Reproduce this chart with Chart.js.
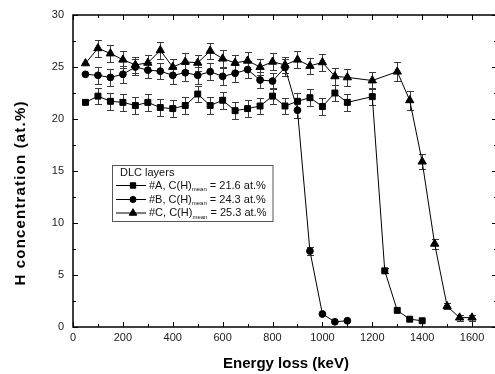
<!DOCTYPE html>
<html><head><meta charset="utf-8">
<script src="https://cdn.jsdelivr.net/npm/chart.js@4/dist/chart.umd.min.js"></script>
<style>
html,body{margin:0;padding:0;overflow:hidden;background:#fff;width:495px;height:374px}
#wrap{position:relative;width:495px;height:374px}
</style></head>
<body><div id="wrap"><canvas id="c" width="495" height="374"></canvas></div>
<script>
// ---- data ----
const xA = [50,100,150,200,250,300,350,400,450,500,550,600,650,700,750,800,850,900,950,1000,1050,1100,1200,1250,1300,1350,1400];
const yA = [21.6,22.2,21.7,21.6,21.3,21.6,21.1,21.0,21.3,22.4,21.3,21.8,20.8,21.0,21.25,22.2,21.25,21.7,22.05,21.2,22.5,21.6,22.15,5.4,1.6,0.75,0.6];
const eA = [0,0.8,0.8,0.8,0.8,0.8,0.8,0.8,0.8,0.8,0.8,0.8,0.8,0.8,0.8,0.8,0.8,0.8,0.8,0.8,0.8,0.8,0.8,0.25,0,0,0];

const xB = [50,100,150,200,250,300,350,400,450,500,550,600,650,700,750,800,850,900,950,1000,1050,1100];
const yB = [24.3,24.2,24.0,24.3,25.0,24.7,24.6,24.2,24.45,24.2,24.55,24.1,24.4,24.75,23.75,23.65,24.95,20.85,7.3,1.25,0.5,0.6];
const eB = [0,0.8,0.8,0.8,0.8,0.8,0.8,0.8,0.8,0.8,0.8,0.8,0.8,0.8,0.8,0.8,0.8,0.8,0.4,0,0,0];

const xC = [50,100,150,200,250,300,350,400,450,500,550,600,650,700,750,800,850,900,950,1000,1050,1100,1200,1300,1350,1400,1450,1500,1550,1600];
const yC = [25.35,26.8,26.3,25.7,25.2,25.4,26.6,25.0,25.5,25.4,26.55,25.8,25.4,25.6,25.0,25.5,25.2,25.7,25.1,25.45,24.1,24.0,23.7,24.55,21.8,15.9,8.0,2.0,0.9,0.9];
const eC = [0,0.8,0.8,0.8,0.8,0.8,0.8,0.8,0.8,0.8,0.8,0.8,0.8,0.8,0.8,0.8,0.8,0.8,0.8,0.8,0.8,0.8,0.8,0.9,0.9,0.7,0.5,0.3,0.3,0.3];

const xTicks = [0,200,400,600,800,1000,1200,1400,1600];
const xMinor = [100,300,500,700,900,1100,1300,1500,1700];
const yTicks = [0,5,10,15,20,25,30];
const yMinor = [2.5,7.5,12.5,17.5,22.5,27.5];

const xTitle = 'Energy loss (keV)';
const yTitle = 'H concentration (at.%)';
const legendTitle = 'DLC layers';
const legendNames = ['#A, C(H)', '#B, C(H)', '#C, C(H)'];
const legendSub = 'mean';
const legendMeans = [' = 21.6 at.%', ' = 24.3 at.%', ' = 25.3 at.%'];
const pointStyles = ['rect', 'circle', 'triangle'];
const pointRadii = [4.2, 3.4, 4.8];

const errSets = [eA, eB, eC];
const pts = (xs, ys) => xs.map((v, i) => ({x: v, y: ys[i]}));
const FONT = "'Liberation Sans', Arial, sans-serif";
const AREA = {left: 73, right: 497, top: 15, bottom: 327};

const areaPlugin = {
  id: 'area',
  afterLayout(chart) {
    const a = chart.chartArea;
    Object.assign(a, AREA);
    a.width = AREA.right - AREA.left;
    a.height = AREA.bottom - AREA.top;
    const x = chart.scales.x, y = chart.scales.y;
    x.left = AREA.left; x.right = AREA.right; x.width = a.width; x.configure();
    y.top = AREA.top; y.bottom = AREA.bottom; y.height = a.height; y.configure();
  }
};

const errPlugin = {
  id: 'errbars',
  beforeDatasetsDraw(chart) {
    const {ctx, scales: {x, y}} = chart;
    ctx.save();
    ctx.strokeStyle = '#3a3a3a';
    ctx.lineWidth = 1;
    chart.data.datasets.forEach((ds, i) => {
      const errs = errSets[i];
      ds.data.forEach((p, j) => {
        const e = errs[j];
        if (!e) return;
        const px = Math.round(x.getPixelForValue(p.x)) + 0.5;
        const y1 = Math.round(y.getPixelForValue(p.y + e)) + 0.5;
        const y2 = Math.round(y.getPixelForValue(p.y - e)) + 0.5;
        ctx.beginPath();
        ctx.moveTo(px, y1); ctx.lineTo(px, y2);
        ctx.moveTo(px - 3.5, y1); ctx.lineTo(px + 3.5, y1);
        ctx.moveTo(px - 3.5, y2); ctx.lineTo(px + 3.5, y2);
        ctx.stroke();
      });
    });
    ctx.restore();
  }
};

const framePlugin = {
  id: 'frame',
  afterDraw(chart) {
    const {ctx, chartArea: a, scales: {x, y}} = chart;
    ctx.save();
    ctx.strokeStyle = '#000';
    ctx.lineWidth = 1.5;
    ctx.strokeRect(a.left, a.top, a.right - a.left, a.bottom - a.top);
    ctx.lineWidth = 1;
    ctx.beginPath();
    const tx = (v, len) => {
      const px = Math.round(x.getPixelForValue(v)) + 0.5;
      ctx.moveTo(px, a.bottom); ctx.lineTo(px, a.bottom - len);
      ctx.moveTo(px, a.top); ctx.lineTo(px, a.top + len);
    };
    const ty = (v, len) => {
      const py = Math.round(y.getPixelForValue(v)) + 0.5;
      ctx.moveTo(a.left, py); ctx.lineTo(a.left + len, py);
      ctx.moveTo(a.right, py); ctx.lineTo(a.right - len, py);
    };
    xTicks.forEach(v => tx(v, 5));
    xMinor.forEach(v => tx(v, 3));
    yTicks.forEach(v => ty(v, 5));
    yMinor.forEach(v => ty(v, 3));
    ctx.stroke();

    // axis titles
    ctx.fillStyle = '#000';
    ctx.font = 'bold 15px ' + FONT;
    ctx.textAlign = 'center';
    ctx.textBaseline = 'middle';
    ctx.fillText(xTitle, 286, 364);
    ctx.save();
    ctx.translate(21, 193);
    ctx.rotate(-Math.PI / 2);
    const w = ctx.measureText(yTitle).width;
    ctx.letterSpacing = Math.max(0, (184 - w) / (yTitle.length - 1)).toFixed(2) + 'px';
    ctx.fillText(yTitle, 0, 0);
    ctx.restore();

    // legend
    ctx.strokeStyle = '#555';
    ctx.lineWidth = 1;
    ctx.strokeRect(112.5, 165.5, 160.5, 56);
    ctx.fillStyle = '#111';
    ctx.textAlign = 'left';
    ctx.textBaseline = 'middle';
    ctx.font = '11px ' + FONT;
    ctx.fillText(legendTitle, 120, 172.5);
    const rows = [185.5, 199.5, 213];
    rows.forEach((ry, i) => {
      ctx.strokeStyle = '#000';
      ctx.beginPath();
      ctx.moveTo(116, ry); ctx.lineTo(146, ry);
      ctx.stroke();
      Chart.helpers.drawPoint(ctx, {pointStyle: pointStyles[i], radius: pointRadii[i] * 0.9, rotation: 0, borderWidth: 1}, 133, ry);
      ctx.fillStyle = '#000';
      ctx.fill();
      ctx.font = '11px ' + FONT;
      ctx.fillStyle = '#111';
      ctx.fillText(legendNames[i], 149, ry);
      let xx = 149 + ctx.measureText(legendNames[i]).width;
      ctx.font = '6px ' + FONT;
      ctx.fillText(legendSub, xx, ry + 4);
      xx += ctx.measureText(legendSub).width;
      ctx.font = '11px ' + FONT;
      ctx.fillText(legendMeans[i], xx, ry);
    });
    ctx.restore();
  }
};

const mkDs = (label, xs, ys, i) => ({
  label, data: pts(xs, ys),
  borderColor: '#000', borderWidth: 1,
  backgroundColor: '#000',
  pointStyle: pointStyles[i], pointRadius: pointRadii[i],
  pointBackgroundColor: '#000', pointBorderColor: '#000', pointBorderWidth: 1,
  tension: 0, clip: false
});

new Chart(document.getElementById('c'), {
  type: 'line',
  data: {
    datasets: [
      mkDs('#A', xA, yA, 0),
      mkDs('#B', xB, yB, 1),
      mkDs('#C', xC, yC, 2)
    ]
  },
  options: {
    responsive: false,
    devicePixelRatio: 1,
    animation: false,
    layout: {padding: {top: 15, left: 0, right: 0, bottom: 0}},
    plugins: {legend: {display: false}, tooltip: {enabled: false}},
    scales: {
      x: {
        type: 'linear', min: 0, max: 1700,
        grid: {display: false, drawTicks: false},
        border: {display: false},
        afterBuildTicks: s => { s.ticks = xTicks.map(v => ({value: v})); },
        afterFit: s => { s.height = 47; s.paddingRight = 0; s.paddingLeft = 0; },
        ticks: {color: '#222', font: {family: FONT, size: 11}, padding: 4, maxRotation: 0, autoSkip: false, callback: v => String(v)}
      },
      y: {
        type: 'linear', min: 0, max: 30,
        grid: {display: false, drawTicks: false},
        border: {display: false},
        afterBuildTicks: s => { s.ticks = yTicks.map(v => ({value: v})); },
        afterFit: s => { s.width = 73; },
        ticks: {color: '#222', font: {family: FONT, size: 11}, padding: 9, autoSkip: false, callback: v => String(v)}
      }
    }
  },
  plugins: [areaPlugin, errPlugin, framePlugin]
});
</script>
</body></html>
